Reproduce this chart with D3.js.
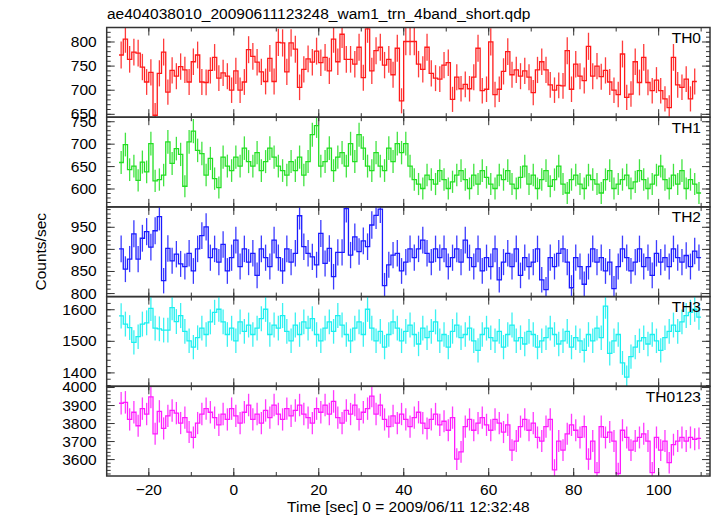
<!DOCTYPE html>
<html><head><meta charset="utf-8">
<script src="https://cdn.jsdelivr.net/npm/d3@7"></script>
<style>body{margin:0;background:#fff}svg{display:block}text{font-family:"Liberation Sans",Arial,Helvetica,sans-serif}</style>
</head><body><svg id="c" width="717" height="516"></svg>
<script>
const title = "ae404038010_20090611123248_wam1_trn_4band_short.qdp";
const bandNames = ["TH0","TH1","TH2","TH3","TH0123"];
const bandColors = ["#ff1a1a","#22e022","#1a1aff","#1af0f0","#ff1aff"];
const tStart = -26.9, binWidth = 1.0;
const xTicks = [-20,0,20,40,60,80,100];
const yDomains = [[643,829],[559,759],[792,995],[1356,1640],[3506,4004]];
const yMajor = [[650,700,750,800],[600,650,700,750],[800,850,900,950],[1400,1500,1600],[3600,3700,3800,3900,4000]];
const yMinorStep = [10,10,10,20,20];

const th0 = [772,805,763,778,776,747,716,736,647,734,778,695,740,728,748,741,716,758,772,716,715,740,767,724,735,728,699,739,699,716,783,769,757,737,717,765,717,798,797,737,797,784,705,742,764,757,780,756,767,739,805,758,815,763,763,753,
788,725,826,739,781,788,751,763,731,786,677,800,800,800,753,742,788,734,724,722,751,756,680,726,702,711,702,726,786,698,701,799,690,701,738,779,731,741,728,739,726,694,741,758,741,710,699,709,708,781,701,753,728,719,790,728,749,727,740,716,699,690,774,684,691,758,715,767,715,698,720,698,681,663,767,710,705,722,681,717];
const th1 = [658,698,642,650,618,659,637,700,617,620,630,704,656,689,676,605,704,728,685,678,630,667,622,602,
670,650,640,670,650,690,660,650,680,640,660,690,670,650,640,630,660,640,670,630,660,720,740,650,660,690,640,670,680,650,700,660,720,690,650,640,680,650,640,690,660,700,680,700,650,620,610,600,630,620,610,640,620,600,615,630,640,620,600,630,610,640,625,610,600,630,620,640,610,600,625,650,610,630,600,620,640,605,620,650,610,590,620,630,610,600,630,620,610,590,620,640,600,610,620,630,600,615,640,620,600,610,630,650,620,600,630,610,640,600,620,610,590];
const th2 = [900,854,877,934,877,924,939,904,941,973,828,901,873,888,866,860,890,850,900,930,950,880,900,870,910,850,880,920,860,900,870,890,840,900,880,860,920,880,850,900,870,890,975,905,890,882,864,935,867,901,837,892,892,991,886,927,894,918,905,954,976,990,817,864,886,890,
850,870,900,880,900,920,890,870,900,880,900,860,880,900,870,920,880,860,900,850,880,860,900,830,870,890,860,900,840,880,860,870,900,830,808,880,860,890,900,870,812,880,860,820,860,900,870,880,850,870,810,860,900,880,850,870,900,860,880,840,890,870,880,860,900,880,870,885,860,895,880];
const th3 = [1579,1553,1542,1495,1513,1553,1557,1603,1540,1538,1534,1534,1605,1561,
1580,1530,1500,1480,1510,1540,1520,1560,1590,1600,1560,1520,1540,1500,1560,1530,
1550,1520,1540,1570,1600,1520,1550,1540,1580,1530,1500,1550,1520,1560,1540,1570,1520,1500,1540,1560,
1530,1580,1550,1520,1500,1540,1560,1520,1600,1540,1500,1530,1480,1520,1560,1540,1500,1530,1550,1520,
1490,1540,1510,1530,1560,1500,1520,1480,1530,1550,1510,1520,1540,1500,1470,1520,1540,1510,1500,1530,
1480,1520,1550,1500,1510,1490,1530,1520,1480,1500,1510,1540,1520,1490,1500,1530,1480,1510,1500,1470,
1520,1500,1540,1510,1610,1460,1500,1520,1430,1385,1450,1480,1500,1510,1490,1520,1500,1470,1510,1530,
1550,1530,1560,1580,1590,1600,1575];
const th0123 = [3910,3915,3820,3860,3785,3880,3850,3945,3740,3865,
3770,3840,3870,3855,3800,3830,3750,3720,3800,3850,
3880,3860,3830,3790,3850,3820,3880,3840,3800,3860,
3900,3820,3850,3800,3870,3830,3900,3850,3820,3880,
3840,3870,3900,3850,3830,3800,3880,3860,3900,3850,
3920,3830,3800,3870,3850,3900,3820,3860,3880,3950,
3850,3900,3820,3780,3840,3800,3850,3820,3780,3830,
3860,3800,3770,3820,3850,3790,3810,3760,3830,3600,
3640,3780,3820,3760,3800,3830,3790,3760,3820,3800,
3750,3790,3650,3700,3780,3820,3760,3800,3720,3700,
3780,3820,3540,3700,3650,3740,3790,3760,3720,3780,
3600,3700,3525,3780,3720,3750,3700,3520,3760,3720,
3650,3700,3720,3740,3700,3525,3720,3650,3700,3580,
3680,3700,3720,3700,3720,3710,3715];
const series = [th0, th1, th2, th3, th0123];

const svg = d3.select("#c");
const pL = 106.7, pR = 710, pT = 27.5, pB = 476;
const ph = (pB - pT) / 5;
const x = d3.scaleLinear().domain([-29.8, 112.2]).range([pL, pR]);
const frameColor = "#333";

svg.append("text").attr("x", 107).attr("y", 19).attr("font-size", 15.5).attr("fill", "#000").text(title);

series.forEach((vals, k) => {
  const y0 = pT + k * ph, y1 = y0 + ph;
  const y = d3.scaleLinear().domain(yDomains[k]).range([y1, y0]);
  const g = svg.append("g");
  const cid = "clip" + k;
  svg.append("clipPath").attr("id", cid).append("rect").attr("x", pL).attr("y", y0).attr("width", pR - pL).attr("height", ph);
  const dg = g.append("g").attr("clip-path", `url(#${cid})`);
  const col = bandColors[k];
  dg.selectAll("line.e").data(vals).join("line")
    .attr("x1", (d, i) => x(tStart + (i + 0.5) * binWidth))
    .attr("x2", (d, i) => x(tStart + (i + 0.5) * binWidth))
    .attr("y1", d => y(d - Math.sqrt(d))).attr("y2", d => y(d + Math.sqrt(d)))
    .attr("stroke", col).attr("stroke-width", 1.3).attr("opacity", 0.85);
  let p = "";
  vals.forEach((v, i) => {
    const xa = x(tStart + i * binWidth), xb = x(tStart + (i + 1) * binWidth);
    p += (i === 0 ? "M" : "L") + xa + "," + y(v) + "L" + xb + "," + y(v);
  });
  dg.append("path").attr("d", p).attr("fill", "none").attr("stroke", col).attr("stroke-width", 1.3);

  const minors = d3.range(Math.ceil(yDomains[k][0] / yMinorStep[k]) * yMinorStep[k], yDomains[k][1], yMinorStep[k]);
  const axL = d3.axisLeft(y).tickValues(minors).tickSize(-4).tickFormat("");
  const axR = d3.axisRight(y).tickValues(minors).tickSize(-4).tickFormat("");
  const axLM = d3.axisLeft(y).tickValues(yMajor[k]).tickSize(-8).tickPadding(10).tickFormat(d3.format("d"));
  const axRM = d3.axisRight(y).tickValues(yMajor[k]).tickSize(-8).tickFormat("");
  [ [axL, pL], [axR, pR], [axLM, pL], [axRM, pR] ].forEach(([ax, xx]) => {
    const a = g.append("g").attr("transform", `translate(${xx},0)`).call(ax);
    a.select(".domain").remove();
    a.selectAll("line").attr("stroke", frameColor).attr("stroke-width", 1);
    a.selectAll("text").attr("font-size", 15.5).attr("fill", "#000").attr("font-family", "Liberation Sans, Arial, sans-serif");
  });
  const xMin = d3.range(-20, 111, 10);
  [[y0, 1], [y1, -1]].forEach(([yy, dir]) => {
    const ax = (dir === 1 ? d3.axisTop(x) : d3.axisBottom(x));
    const am = g.append("g").attr("transform", `translate(0,${yy})`).call(ax.tickValues(xMin).tickSize(-4).tickFormat(""));
    am.select(".domain").remove(); am.selectAll("line").attr("stroke", frameColor);
    const ax2 = (dir === 1 ? d3.axisTop(x) : d3.axisBottom(x));
    const aM = g.append("g").attr("transform", `translate(0,${yy})`).call(ax2.tickValues(xTicks).tickSize(-8).tickFormat(""));
    aM.select(".domain").remove(); aM.selectAll("line").attr("stroke", frameColor);
  });
  g.append("rect").attr("x", pL).attr("y", y0).attr("width", pR - pL).attr("height", ph)
    .attr("fill", "none").attr("stroke", frameColor).attr("stroke-width", 1.5);
  g.append("text").attr("x", 701).attr("y", y0 + 15.5).attr("text-anchor", "end").attr("font-size", 15.5).attr("fill", "#000").text(bandNames[k]);
});

const xa = svg.append("g").attr("transform", `translate(0,${pB})`)
  .call(d3.axisBottom(x).tickValues(xTicks).tickSize(0).tickPadding(8).tickFormat(d => d < 0 ? "\u2212" + Math.abs(d) : d));
xa.select(".domain").remove();
xa.selectAll("text").attr("font-size", 15.5).attr("fill", "#000").attr("font-family", "Liberation Sans, Arial, sans-serif");

svg.append("text").attr("x", (pL + pR) / 2).attr("y", 512).attr("text-anchor", "middle").attr("font-size", 15.5).attr("fill", "#000")
  .text("Time [sec] 0 = 2009/06/11 12:32:48");
svg.append("text").attr("transform", `translate(46,${(pT + pB) / 2}) rotate(-90)`).attr("text-anchor", "middle").attr("font-size", 15.5).attr("fill", "#000")
  .text("Counts/sec");
</script></body></html>
